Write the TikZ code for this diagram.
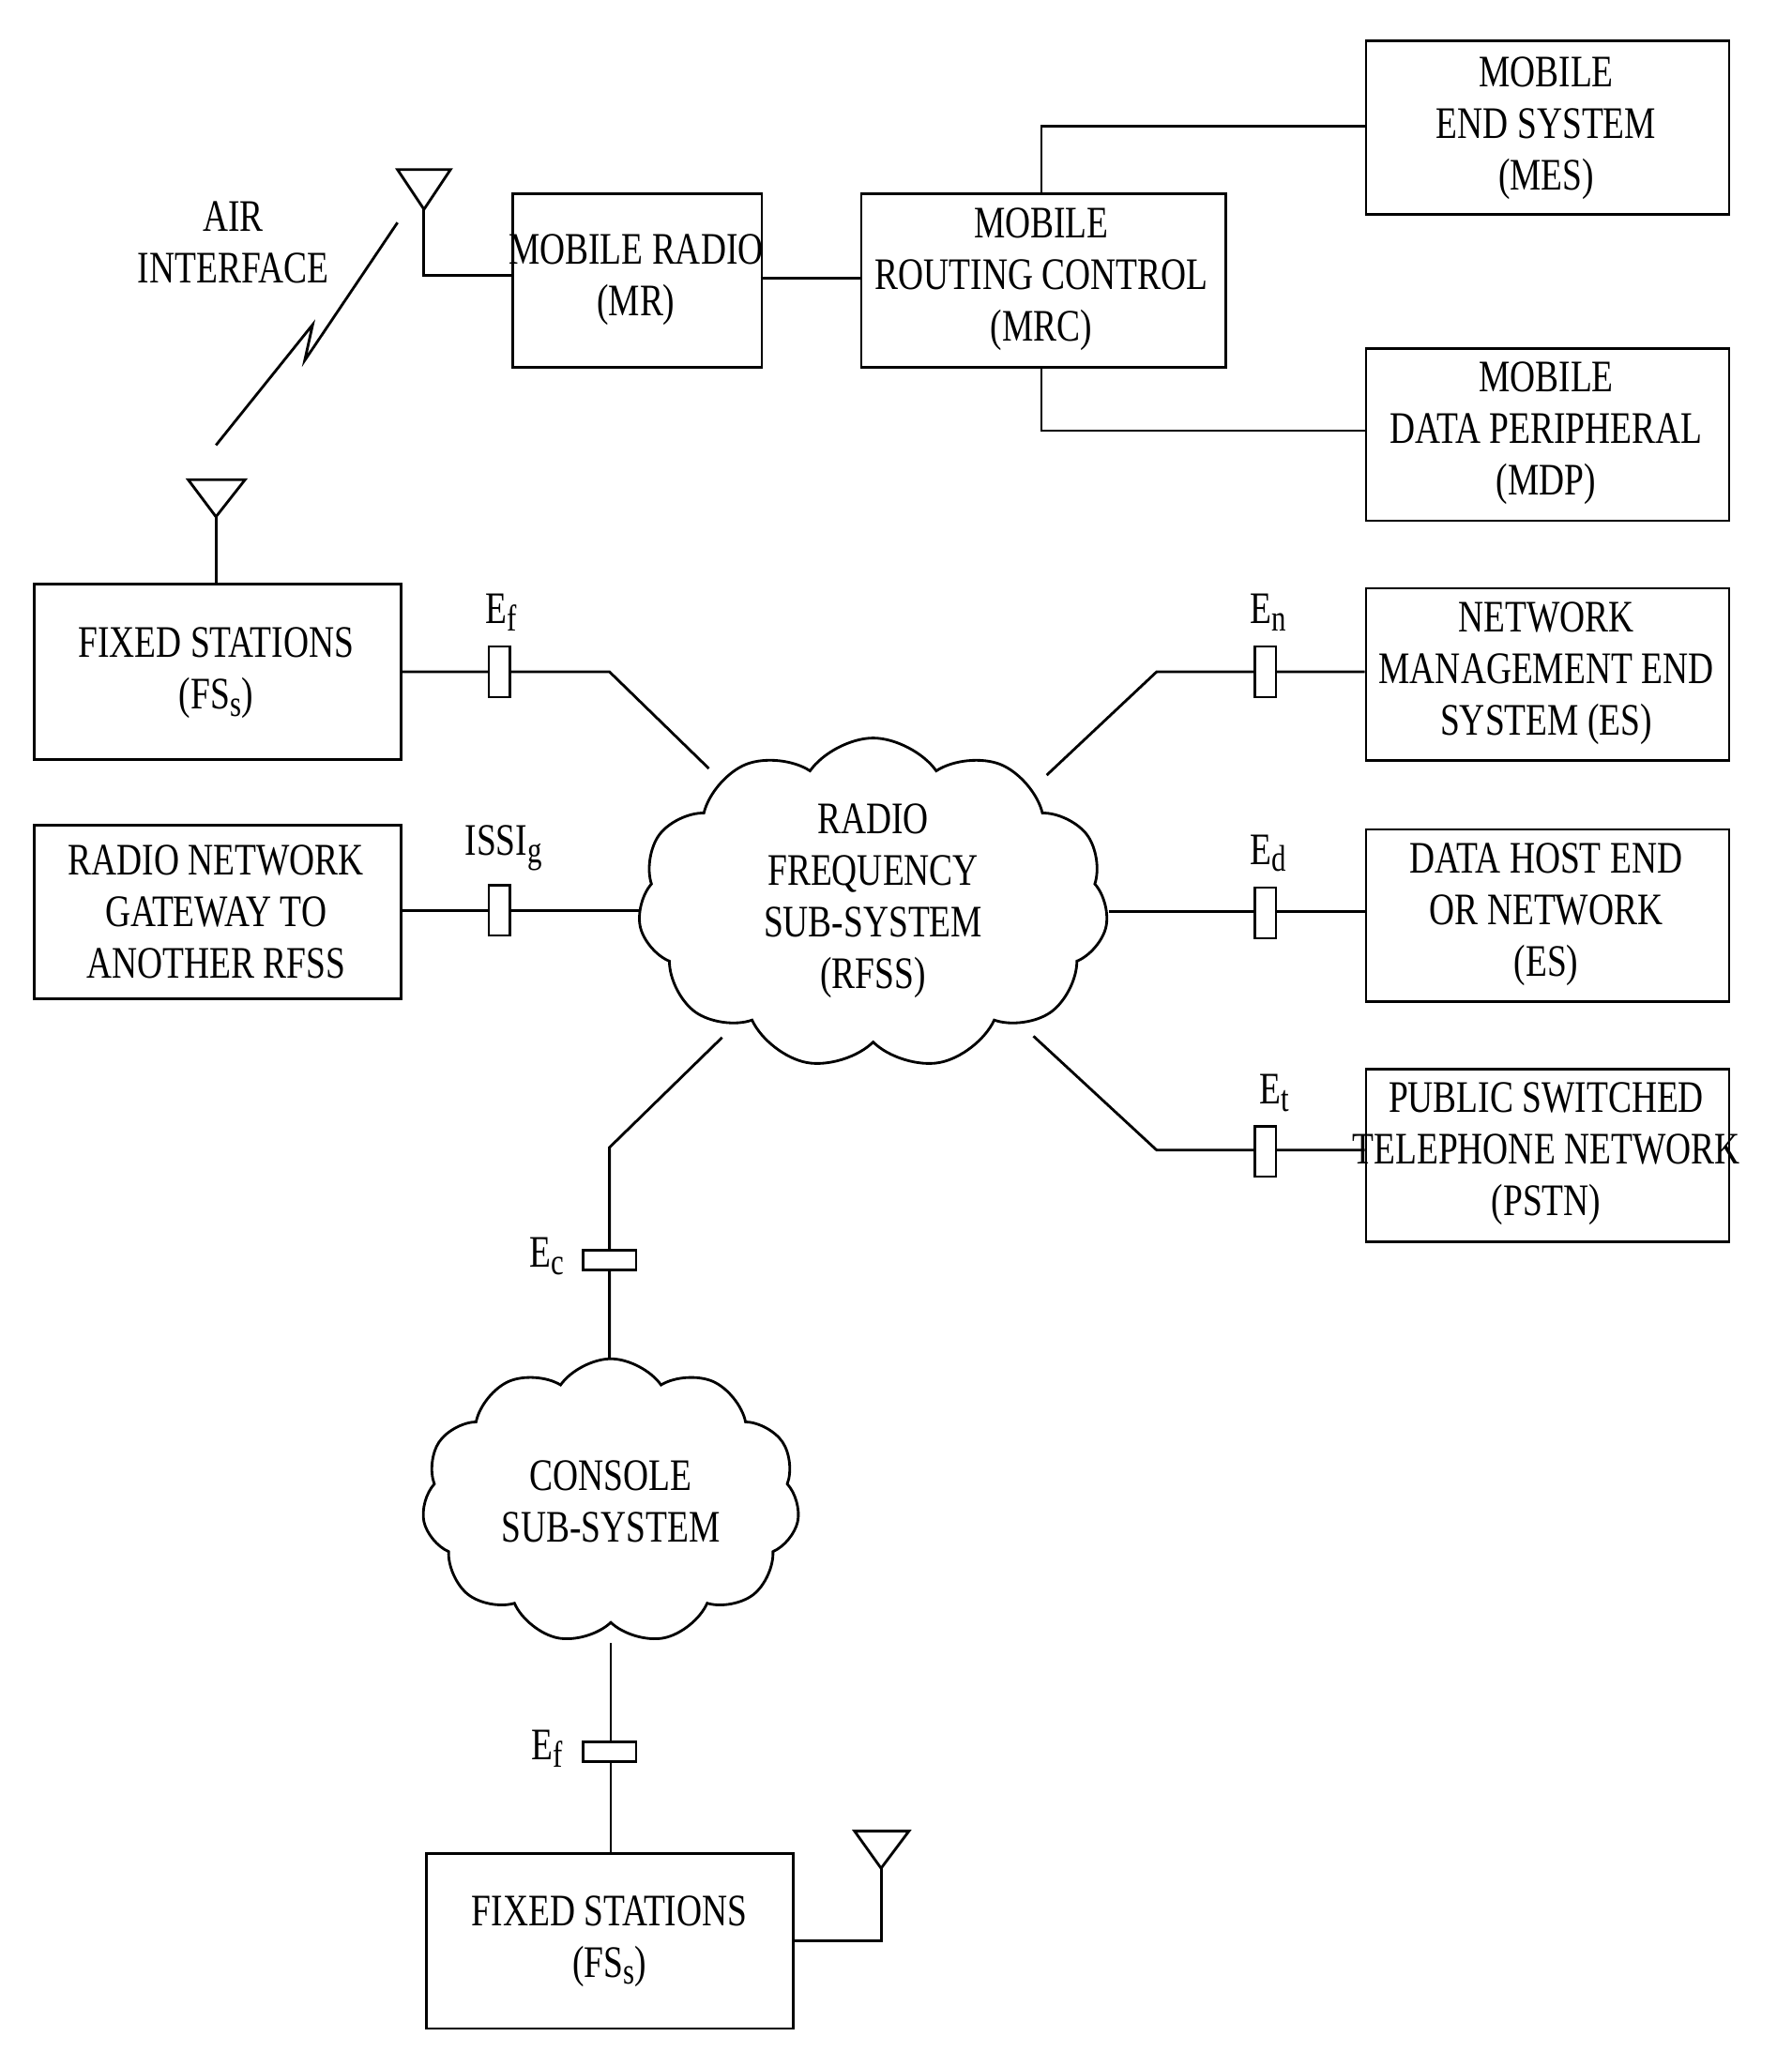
\documentclass[tikz,border=0pt]{standalone}
\usepackage{fontspec}
\setmainfont{Liberation Serif}[FakeStretch=0.78]
\usetikzlibrary{shapes.symbols}
\newcommand{\lowr}[1]{\raisebox{-0.35ex}{\fontsize{28}{30}\selectfont #1}}
\begin{document}
\begin{tikzpicture}[x=1pt,y=-1pt,line width=2pt,
  every node/.style={font=\fontsize{34}{39}\selectfont,align=center},
  box/.style={draw,anchor=north west,inner sep=0pt},
  plug/.style={draw,fill=white,line width=1.8pt,inner sep=0pt},
  vplug/.style={plug,minimum width=16pt,minimum height=38pt},
  hplug/.style={plug,minimum width=40pt,minimum height=15pt},
  cl/.style={draw,cloud,cloud puffs=11,cloud puff arc=110,inner sep=0pt}]
\useasboundingbox (0,0) rectangle (1352,1560);
% boxes
\node[box,minimum width=274pt,minimum height=131pt] (mes) at (1030,30) {};
\node at (1167,97) {MOBILE\\END SYSTEM\\(MES)};
\node[box,minimum width=274pt,minimum height=130pt] (mdp) at (1030,262) {};
\node at (1167,327) {MOBILE\\DATA PERIPHERAL\\(MDP)};
\node[box,minimum width=188pt,minimum height=131pt] (mr) at (386,145) {};
\node at (480,211) {MOBILE RADIO\\(MR)};
\node[box,minimum width=275pt,minimum height=131pt] (mrc) at (649,145) {};
\node at (786,211) {MOBILE\\ROUTING CONTROL\\(MRC)};
\node[box,minimum width=277pt,minimum height=132pt] (fs1) at (25,440) {};
\node at (163,508) {FIXED STATIONS\\(FS\lowr{s})};
\node[box,minimum width=277pt,minimum height=131pt] (rng) at (25,622) {};
\node at (163,688) {RADIO NETWORK\\GATEWAY TO\\ANOTHER RFSS};
\node[box,minimum width=274pt,minimum height=130pt] (nm) at (1030,443) {};
\node at (1167,508) {NETWORK\\MANAGEMENT END\\SYSTEM (ES)};
\node[box,minimum width=274pt,minimum height=130pt] (dh) at (1030,625) {};
\node at (1167,690) {DATA HOST END\\OR NETWORK\\(ES)};
\node[box,minimum width=274pt,minimum height=130pt] (pstn) at (1030,806) {};
\node at (1167,871) {PUBLIC SWITCHED\\TELEPHONE NETWORK\\(PSTN)};
\node[box,minimum width=277pt,minimum height=132pt] (fs2) at (321,1398) {};
\node at (460,1465) {FIXED STATIONS\\(FS\lowr{s})};
% clouds
\node[cl,minimum width=355pt,minimum height=250pt] (rfss) at (659,682) {};
\node at (659,680) {RADIO\\FREQUENCY\\SUB-SYSTEM\\(RFSS)};
\node[cl,minimum width=285pt,minimum height=215pt] (con) at (461,1133) {};
\node at (461,1133) {CONSOLE\\SUB-SYSTEM};
% mobile links
\coordinate (a1) at (786,95); \coordinate (a2) at (786,325);
\draw (mrc.north west -| a1) -- (a1) -- (a1 -| mes.west);
\draw (mrc.south west -| a2) -- (a2) -- (a2 -| mdp.west);
\draw (574,210) -- (649,210);
% antennas
\coordinate (t1) at (320,158);
\draw (300,128) -- (340,128) -- (t1) -- cycle;
\draw (t1) -- (320,208) -- (386,208);
\coordinate (t2) at (163,390);
\draw (142,362) -- (185,362) -- (t2) -- cycle;
\draw (t2) -- (163,440);
\coordinate (t3) at (665,1410);
\draw (645,1382) -- (686,1382) -- (t3) -- cycle;
\draw (t3) -- (665,1465) -- (598,1465);
% lightning
\draw (163,336) -- (236,245) -- (230,272) -- (300,168);
\node at (176,183) {AIR\\INTERFACE};
% connectors
\draw (302,507) -- (460,507) -- (535,580);
\node[vplug] (pf) at (377,507) {}; \node at (378,462) {E\lowr{f}};
\draw (302,687) -- (483,687);
\node[vplug] (pi) at (377,687) {}; \node at (380,640) {ISSI\lowr{g}};
\draw (790,585) -- (873,507) -- (1030,507);
\node[vplug] (pn) at (955,507) {}; \node at (957,462) {E\lowr{n}};
\draw (837,688) -- (1030,688);
\node[vplug] (pd) at (955,689) {}; \node at (957,644) {E\lowr{d}};
\draw (780,782) -- (873,868) -- (1030,868);
\node[vplug] (pt) at (955,869) {}; \node at (962,825) {E\lowr{t}};
\draw (545,783) -- (460,866) -- (460,1025);
\node[hplug] (pc) at (460,951) {}; \node at (413,948) {E\lowr{c}};
\draw (461,1240) -- (461,1398);
\node[hplug] (pf2) at (460,1322) {}; \node at (413,1320) {E\lowr{f}};
\end{tikzpicture}
\end{document}
